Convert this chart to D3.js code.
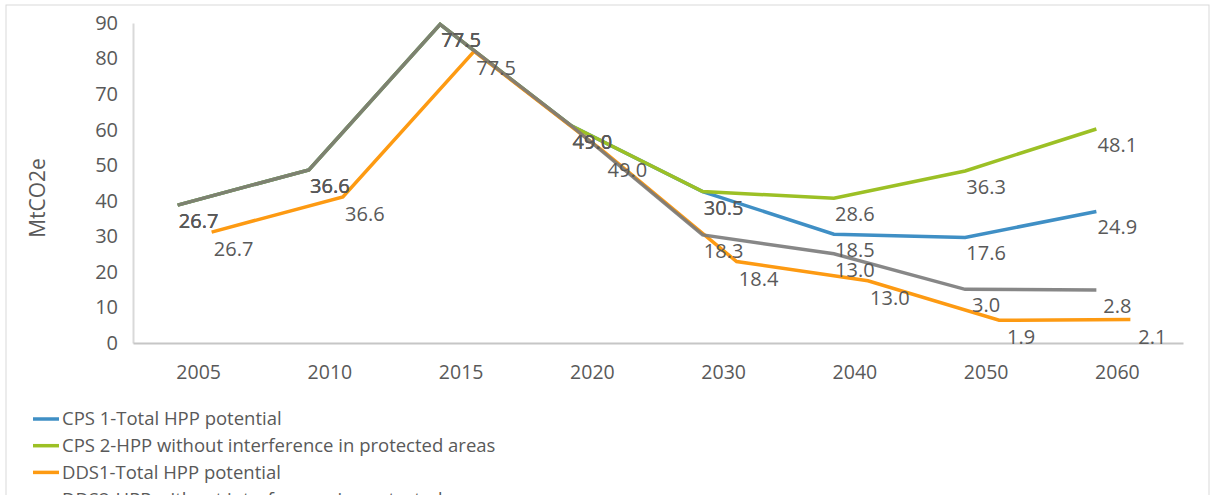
<!DOCTYPE html>
<html>
<head>
<meta charset="utf-8">
<script src="https://cdn.jsdelivr.net/npm/d3@7"></script>
<style>
  body { margin: 0; background: #fff; }
  text { font-family: "Open Sans", sans-serif; fill: #595959; }
</style>
</head>
<body>
<svg width="1214" height="495"></svg>
<script>
const categories = ['2005', '2010', '2015', '2020', '2030', '2040', '2050', '2060']
const cps1 = [26.7, 36.6, 77.5, 49.0, 30.5, 18.5, 17.6, 24.9]
const cps2 = [26.7, 36.6, 77.5, 49.0, 30.5, 28.6, 36.3, 48.1]
const dds1 = [26.7, 36.6, 77.5, 49.0, 18.4, 13.0, 1.9, 2.1]
const dds2 = [26.7, 36.6, 77.5, 49.0, 18.3, 13.0, 3.0, 2.8]
const yTicks = [0, 10, 20, 30, 40, 50, 60, 70, 80, 90]
const legendNames = [
	'CPS 1-Total HPP potential',
	'CPS 2-HPP without interference in protected areas',
	'DDS1-Total HPP potential',
	'DDS2-HPP without interference in protected areas'
]

const svg = d3.select('svg')
const width = +svg.attr('width')
const height = +svg.attr('height')

// the picture is two copies of the chart laid over each other, slightly shifted
const layers = {
	a: {line: [-21, -43], label: [0, -27]},
	b: {line: [13, -16], label: [35, 1]}
}

const series = [
	{name: legendNames[0], values: cps1, color: '#3f8fc5', layer: 'a', opacity: 1},
	{name: legendNames[1], values: cps2, color: '#9cc025', layer: 'a', opacity: 1},
	{name: legendNames[2], values: dds1, color: '#fd9a12', layer: 'b', opacity: 1},
	{name: legendNames[3], values: dds2, color: '#7a7a7a', layer: 'a', opacity: 0.9}
]

svg.append('rect')
	.attr('x', 6).attr('y', 5)
	.attr('width', 1203).attr('height', height)
	.attr('fill', 'none')
	.attr('stroke', '#d9d9d9')

const xScale = d3.scaleBand()
	.domain(categories)
	.range([133, 1183])

const yScale = d3.scaleLinear()
	.domain([0, 90])
	.range([343, 23])

const cx = c => xScale(c) + xScale.bandwidth() / 2

const yAxis = d3.axisLeft(yScale)
	.tickValues(yTicks)
	.tickSize(0)
	.tickPadding(15)

const xAxis = d3.axisBottom(xScale)
	.tickSize(0)
	.tickPadding(22)

const gy = svg.append('g')
	.attr('transform', 'translate(133,0)')
	.call(yAxis)
gy.select('.domain').attr('stroke', '#d9d9d9').attr('stroke-width', 2)
gy.selectAll('text').style('font-size', '20px').attr('fill', '#595959')

const gx = svg.append('g')
	.attr('transform', 'translate(0,343)')
	.call(xAxis)
gx.select('.domain').attr('stroke', '#c6c6c6').attr('stroke-width', 2)
gx.selectAll('text').style('font-size', '19.5px').attr('fill', '#595959')

svg.append('text')
	.attr('transform', 'translate(45,198) rotate(-90)')
	.attr('text-anchor', 'middle')
	.style('font-size', '21px')
	.text('MtCO2e')

series.forEach(s => {
	const off = layers[s.layer].line
	const line = d3.line()
		.x((d, i) => cx(categories[i]) + off[0])
		.y(d => yScale(d) + off[1])
	svg.append('path')
		.datum(s.values)
		.attr('d', line)
		.attr('fill', 'none')
		.attr('stroke', s.color)
		.attr('stroke-width', 3.5)
		.attr('stroke-opacity', s.opacity)
})

series.forEach(s => {
	const off = layers[s.layer].label
	svg.append('g')
		.selectAll('text')
		.data(s.values)
		.enter()
		.append('text')
		.attr('x', (d, i) => cx(categories[i]) + off[0])
		.attr('y', d => yScale(d) + off[1])
		.attr('dy', '0.35em')
		.attr('text-anchor', 'middle')
		.style('font-size', '20px')
		.attr('fill', '#404040')
		.text(d => d3.format('.1f')(d))
})

const legend = svg.append('g')
	.selectAll('g')
	.data(series)
	.enter()
	.append('g')
	.attr('transform', (d, i) => `translate(33, ${419 + i * 26.7})`)

legend.append('line')
	.attr('x1', 0).attr('x2', 26)
	.attr('stroke', d => d.color)
	.attr('stroke-width', 3.5)

legend.append('text')
	.attr('x', 29)
	.attr('dy', '0.35em')
	.style('font-size', '18.5px')
	.text(d => d.name)
</script>
</body>
</html>
